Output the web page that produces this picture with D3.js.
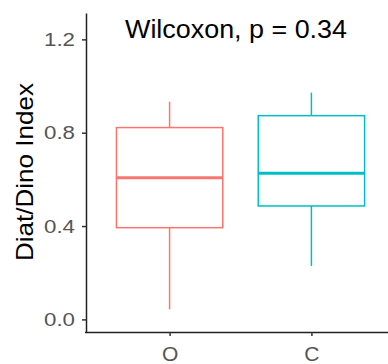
<!DOCTYPE html>
<html>
<head>
<meta charset="utf-8">
<script src="https://cdn.jsdelivr.net/npm/d3@7"></script>
<style>
  body { margin: 0; background: #fff; }
  svg { display: block; font-family: "Liberation Sans", Arial, sans-serif; }
</style>
</head>
<body>
<svg id="chart"></svg>
<script>
// box statistics
const groups = ["O", "C"];
const colors = ["#F8766D", "#00BFC4"];
const lower = [0.043, 0.229];
const q1 = [0.393, 0.486];
const median = [0.607, 0.626];
const q3 = [0.822, 0.873];
const upper = [0.933, 0.972];
const yTicks = [0.0, 0.4, 0.8, 1.2];
const testLabel = "Wilcoxon, p = 0.34";

const width = 388, height = 364;
const margin = { top: 13, right: 0, bottom: 32, left: 86 };

const svg = d3.select("#chart")
    .attr("width", width)
    .attr("height", height);

// discrete x: categories at 1 and 2, ggplot-style padding of 0.6
const x = d3.scaleLinear()
    .domain([0.4, 2.6])
    .range([margin.left - 1.5, margin.left - 1.5 + 312]);

const y = d3.scaleLinear()
    .domain([-0.054, 1.313])
    .range([height - margin.bottom, margin.top]);

const boxW = 0.75;

const data = groups.map((g, i) => ({
    g, i, color: colors[i],
    lo: lower[i], q1: q1[i], med: median[i], q3: q3[i], hi: upper[i]
}));

const boxes = svg.append("g").selectAll("g")
    .data(data)
    .enter().append("g");

// whiskers
boxes.append("line")
    .attr("x1", d => x(d.i + 1)).attr("x2", d => x(d.i + 1))
    .attr("y1", d => y(d.q3)).attr("y2", d => y(d.hi))
    .attr("stroke", d => d.color).attr("stroke-width", 1.5);

boxes.append("line")
    .attr("x1", d => x(d.i + 1)).attr("x2", d => x(d.i + 1))
    .attr("y1", d => y(d.q1)).attr("y2", d => y(d.lo))
    .attr("stroke", d => d.color).attr("stroke-width", 1.5);

// box
boxes.append("rect")
    .attr("x", d => x(d.i + 1 - boxW / 2))
    .attr("width", d => x(d.i + 1 + boxW / 2) - x(d.i + 1 - boxW / 2))
    .attr("y", d => y(d.q3))
    .attr("height", d => y(d.q1) - y(d.q3))
    .attr("fill", "white")
    .attr("stroke", d => d.color).attr("stroke-width", 1.5);

// median
boxes.append("line")
    .attr("x1", d => x(d.i + 1 - boxW / 2)).attr("x2", d => x(d.i + 1 + boxW / 2))
    .attr("y1", d => y(d.med)).attr("y2", d => y(d.med))
    .attr("stroke", d => d.color).attr("stroke-width", 3);

// y axis
const yAxis = svg.append("g")
    .attr("transform", `translate(${margin.left},0)`)
    .call(d3.axisLeft(y).tickValues(yTicks).tickFormat(d3.format(".1f")).tickSize(4).tickSizeOuter(0));
yAxis.select(".domain").attr("stroke", "#222").attr("stroke-width", 1.5);
yAxis.selectAll(".tick line").attr("stroke", "#333").attr("stroke-width", 1.5);
yAxis.selectAll(".tick text")
    .attr("fill", "#555").attr("font-size", 19).attr("x", -11)
    .attr("textLength", 31).attr("lengthAdjust", "spacingAndGlyphs");

// x axis
const xAxis = svg.append("g")
    .attr("transform", `translate(0,${height - margin.bottom})`)
    .call(d3.axisBottom(x).tickValues([1, 2]).tickFormat(d => groups[d - 1]).tickSize(4).tickSizeOuter(0));
xAxis.select(".domain").attr("stroke", "#222").attr("stroke-width", 1.5);
xAxis.selectAll(".tick line").attr("stroke", "#333").attr("stroke-width", 1.5);
xAxis.selectAll(".tick text")
    .attr("fill", "#555").attr("font-size", 21).attr("y", 14).attr("dy", "0.71em");

// axis title
svg.append("text")
    .attr("transform", `translate(33,172) rotate(-90)`)
    .attr("text-anchor", "middle")
    .attr("font-size", 24)
    .attr("fill", "#000")
    .attr("textLength", 178).attr("lengthAdjust", "spacingAndGlyphs")
    .text("Diat/Dino Index");

// test label
svg.append("text")
    .attr("x", 236)
    .attr("y", 38)
    .attr("text-anchor", "middle")
    .attr("font-size", 25)
    .attr("fill", "#000")
    .attr("textLength", 222).attr("lengthAdjust", "spacingAndGlyphs")
    .text(testLabel);
</script>
</body>
</html>
